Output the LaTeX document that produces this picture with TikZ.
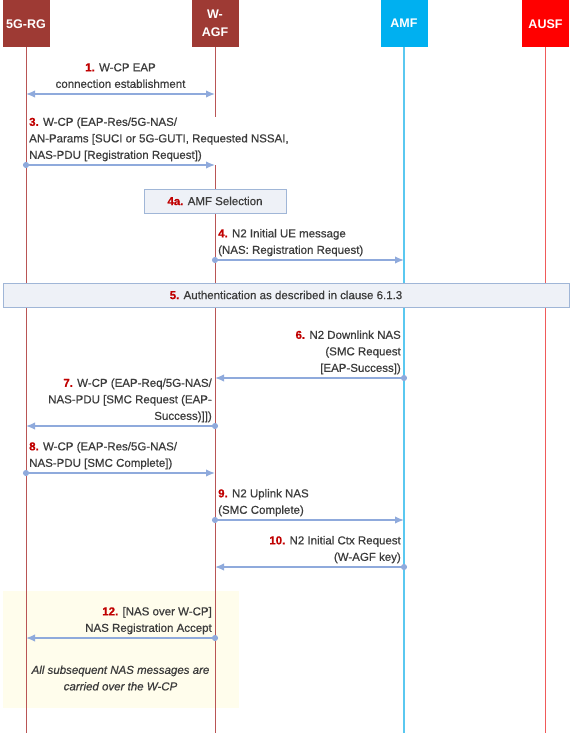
\documentclass[tikz,border=0pt]{standalone}
\usepackage{fontspec}
\setmainfont{Liberation Sans}
\newfontfamily\lblfont[FakeBold=0.6]{Liberation Sans}
\usetikzlibrary{arrows.meta}
\definecolor{rgbrown}{RGB}{158,58,52}
\definecolor{rgline}{RGB}{185,85,85}
\definecolor{amfblue}{RGB}{0,176,240}
\definecolor{amfline}{RGB}{90,200,240}
\definecolor{ausfred}{RGB}{255,0,0}
\definecolor{ausfline}{RGB}{240,90,90}
\definecolor{msgblue}{RGB}{143,170,220}
\definecolor{boxfill}{RGB}{238,241,247}
\definecolor{boxdraw}{RGB}{160,182,215}
\definecolor{notefill}{RGB}{255,253,236}
\definecolor{txtgray}{RGB}{60,60,60}
\definecolor{stepred}{RGB}{192,0,0}
\newcommand{\stepno}[1]{{\color{stepred}\bfseries #1.}}
\tikzset{
	entity/.style={
			minimum width=47, minimum height=47, anchor=north, inner sep=0,
			text=white, align=center, font=\bfseries\fontsize{12.5}{18}\selectfont
		},
	msg/.style={
			draw=msgblue, line width=1.5pt,
			{Circle[length=6pt]}-{Latex[length=9pt,width=7.5pt]}, shorten <=-3pt
		},
	label/.style={
			inner sep=1pt, text=txtgray, font=\lblfont\fontsize{11.5}{16.5}\selectfont
		},
	actionbox/.style={
			draw=boxdraw, fill=boxfill, line width=0.9pt, minimum height=24,
			text=txtgray, font=\lblfont\fontsize{11.5}{16.5}\selectfont
		}
}
\begin{document}
\begin{tikzpicture}[x=1pt,y=-1pt]
			\useasboundingbox (0,0) rectangle (572,733);
			
			% Note area at the bottom
			\fill[notefill] (3,591) rectangle (239,708);
			
			% Entities
			\node[entity, fill=rgbrown] (rg) at (26,0) {5G-RG};
			\node[entity, fill=rgbrown] (agf) at (215,0) {W-\\AGF};
			\node[entity, fill=amfblue] (amf) at (404,0) {AMF};
			\node[entity, fill=ausfred] (ausf) at (545.5,0) {AUSF};
			
			% Lifelines
			\coordinate (bottom) at (0,733);
			\draw[rgline, line width=1pt] (rg.south) -- (rg |- bottom);
			\draw[rgline, line width=1pt] (agf.south) -- (agf |- bottom);
			\draw[amfline, line width=1.4pt] (amf.south) -- (amf |- bottom);
			\draw[ausfline, line width=1pt] (ausf.south) -- (ausf |- bottom);
			
			% Message levels
			\coordinate (y1) at (0,94);
			\coordinate (y3) at (0,165);
			\coordinate (y4) at (0,260);
			\coordinate (y6) at (0,378);
			\coordinate (y7) at (0,426);
			\coordinate (y8) at (0,473);
			\coordinate (y9) at (0,520);
			\coordinate (y10) at (0,567);
			\coordinate (y12) at (0,638);
			
			% 1. W-CP EAP connection establishment
			\node[label, anchor=south, align=center] (l1) at (120.5,94)
				{\stepno{1} W-CP EAP\\connection establishment\strut};
			\draw[draw=msgblue, line width=1.5pt, {Latex[length=9pt,width=7.5pt]}-{Latex[length=9pt,width=7.5pt]}]
				(rg |- y1) -- (agf |- y1);
			
			% 3. W-CP registration request
			\node[label, fill=white, anchor=south west, align=left, xshift=2pt] (l3) at (rg |- y3)
				{\stepno{3} W-CP (EAP-Res/5G-NAS/\\AN-Params [SUCI or 5G-GUTI, Requested NSSAI,\\NAS-PDU [Registration Request])\strut};
			\draw[msg] (rg |- y3) -- (agf |- y3);
			
			% 4a. AMF Selection
			\node[actionbox, minimum width=142] (sel) at (215,201) {\stepno{4a} AMF Selection};
			
			% 4. N2 Initial UE message
			\node[label, anchor=south west, align=left, xshift=2pt] (l4) at (agf |- y4)
				{\stepno{4} N2 Initial UE message\\(NAS: Registration Request)\strut};
			\draw[msg] (agf |- y4) -- (amf |- y4);
			
			% 5. Authentication
			\node[actionbox, minimum width=566] (auth) at (286,295)
				{\stepno{5} Authentication as described in clause 6.1.3};
			
			% 6. N2 Downlink NAS
			\node[label, anchor=south east, align=right, xshift=-2pt] (l6) at (amf |- y6)
				{\stepno{6} N2 Downlink NAS\\(SMC Request\\{[EAP-Success])}\strut};
			\draw[msg] (amf |- y6) -- (agf |- y6);
			
			% 7. W-CP SMC Request
			\node[label, anchor=south east, align=right, xshift=-2pt] (l7) at (agf |- y7)
				{\stepno{7} W-CP (EAP-Req/5G-NAS/\\NAS-PDU [SMC Request (EAP-\\Success)]])\strut};
			\draw[msg] (agf |- y7) -- (rg |- y7);
			
			% 8. W-CP SMC Complete
			\node[label, anchor=south west, align=left, xshift=2pt] (l8) at (rg |- y8)
				{\stepno{8} W-CP (EAP-Res/5G-NAS/\\NAS-PDU [SMC Complete])\strut};
			\draw[msg] (rg |- y8) -- (agf |- y8);
			
			% 9. N2 Uplink NAS
			\node[label, anchor=south west, align=left, xshift=2pt] (l9) at (agf |- y9)
				{\stepno{9} N2 Uplink NAS\\(SMC Complete)\strut};
			\draw[msg] (agf |- y9) -- (amf |- y9);
			
			% 10. N2 Initial Ctx Request
			\node[label, anchor=south east, align=right, xshift=-2pt] (l10) at (amf |- y10)
				{\stepno{10} N2 Initial Ctx Request\\(W-AGF key)\strut};
			\draw[msg] (amf |- y10) -- (agf |- y10);
			
			% 12. NAS Registration Accept
			\node[label, anchor=south east, align=right, xshift=-2pt] (l12) at (agf |- y12)
				{\stepno{12} [NAS over W-CP]\\NAS Registration Accept\strut};
			\draw[msg] (agf |- y12) -- (rg |- y12);
			
			% Note text
			\node[label, align=center, font=\lblfont\itshape\fontsize{11.5}{16.5}\selectfont] (note) at (120.5,678)
				{All subsequent NAS messages are\\carried over the W-CP};
			
		\end{tikzpicture}
\end{document}
